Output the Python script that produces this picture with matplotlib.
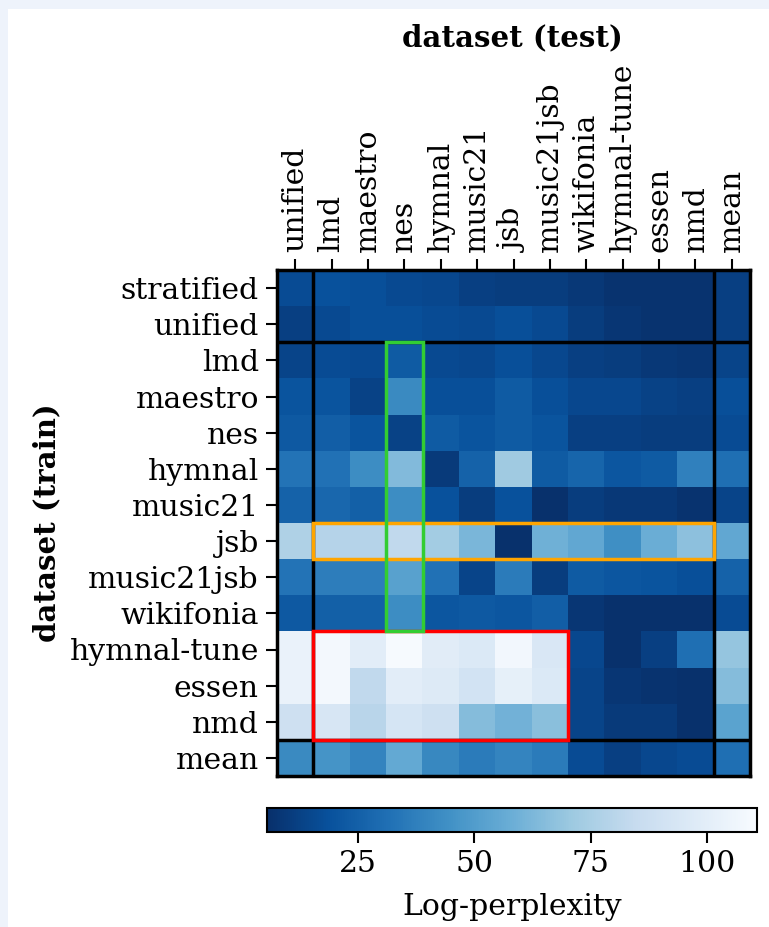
import numpy as np
import matplotlib
matplotlib.use("Agg")
import matplotlib.pyplot as plt
from matplotlib.patches import Rectangle

train_labels = ["stratified", "unified", "lmd", "maestro", "nes", "hymnal", "music21",
                "jsb", "music21jsb", "wikifonia", "hymnal-tune", "essen", "nmd", "mean"]
test_labels = ["unified", "lmd", "maestro", "nes", "hymnal", "music21", "jsb",
               "music21jsb", "wikifonia", "hymnal-tune", "essen", "nmd", "mean"]

row_stratified = [17, 19, 18, 16, 15, 12, 11, 11, 9, 7, 7, 7, 12]
row_unified = [12, 16, 18, 18, 17, 16, 18, 16, 11, 8, 7, 7, 12]
row_lmd = [14, 17, 16, 23, 16, 15, 18, 15, 12, 11, 9, 8, 14]
row_maestro = [20, 20, 13, 42, 18, 18, 23, 18, 15, 15, 13, 12, 18]
row_nes = [22, 24, 20, 13, 23, 20, 23, 20, 12, 12, 11, 11, 17]
row_hymnal = [33, 32, 43, 64, 10, 26, 72, 23, 27, 21, 23, 38, 31]
row_music21 = [26, 28, 25, 43, 19, 11, 19, 6, 11, 9, 9, 7, 14]
row_jsb = [77, 79, 79, 83, 73, 62, 6, 59, 55, 44, 58, 67, 55]
row_music21jsb = [33, 37, 37, 52, 32, 14, 36, 11, 23, 21, 20, 18, 26]
row_wikifonia = [22, 25, 25, 43, 21, 22, 21, 24, 8, 6, 6, 6, 17]
row_hymnal_tune = [104, 109, 100, 110, 99, 96, 108, 95, 15, 6, 12, 31, 69]
row_essen = [104, 109, 83, 100, 97, 91, 102, 96, 14, 8, 7, 6, 65]
row_nmd = [89, 94, 80, 93, 89, 65, 60, 66, 14, 10, 10, 6, 53]
row_mean = [42, 46, 40, 56, 41, 36, 40, 36, 17, 12, 15, 17, 31]

values = np.array([row_stratified, row_unified, row_lmd, row_maestro, row_nes, row_hymnal,
                   row_music21, row_jsb, row_music21jsb, row_wikifonia, row_hymnal_tune,
                   row_essen, row_nmd, row_mean], dtype=float)

cbar_ticks = [25, 50, 75, 100]

plt.rcParams['font.family'] = ['DejaVu Serif']

fig = plt.figure(figsize=(7.69, 9.27), dpi=100)
fig.patch.set_facecolor('#eef3fb')
fig.patches.append(Rectangle((8/769, 0), 1, 1 - 9/927, transform=fig.transFigure,
                             facecolor='white', edgecolor='none', zorder=-10))

ax = fig.add_axes([277/769, 151/927, 473/769, 506/927])
im = ax.imshow(values, cmap='Blues_r', vmin=5.5, vmax=110.7, aspect='auto',
               interpolation='nearest')

ax.xaxis.tick_top()
ax.set_xticks(range(len(test_labels)))
ax.set_xticklabels(test_labels, rotation=90, fontsize=21.5)
ax.set_yticks(range(len(train_labels)))
ax.set_yticklabels(train_labels, fontsize=21.5)
ax.tick_params(length=8, width=1.5, pad=5)
for s in ax.spines.values():
    s.set_linewidth(2.5)
    s.set_color('black')

ax.set_ylabel("dataset (train)", fontsize=21, fontweight='bold', labelpad=6)

for xv in [0.5, 11.5]:
    ax.axvline(xv, color='black', lw=2.5)
for yv in [1.5, 12.5]:
    ax.axhline(yv, color='black', lw=2.5)

ax.add_patch(Rectangle((0.5, 6.5), 11, 1, fill=False, edgecolor='orange', lw=2.5, zorder=5))
ax.add_patch(Rectangle((0.5, 9.5), 7, 3, fill=False, edgecolor='red', lw=2.5, zorder=5))
ax.add_patch(Rectangle((2.5, 1.5), 1, 8, fill=False, edgecolor='limegreen', lw=2.5, zorder=6))

fig.text(512/769, 1 - 38/927, "dataset (test)", fontsize=21, fontweight='bold',
         ha='center', va='center')

cax = fig.add_axes([267/769, 95/927, 490/769, 24/927])
cb = fig.colorbar(im, cax=cax, orientation='horizontal', ticks=cbar_ticks)
cb.outline.set_linewidth(1.5)
cb.ax.tick_params(labelsize=21.5, length=8, width=1.5, pad=5)
cb.set_label("Log-perplexity", fontsize=21.5, labelpad=11)

fig.savefig("out.png", dpi=100, facecolor=fig.get_facecolor())
